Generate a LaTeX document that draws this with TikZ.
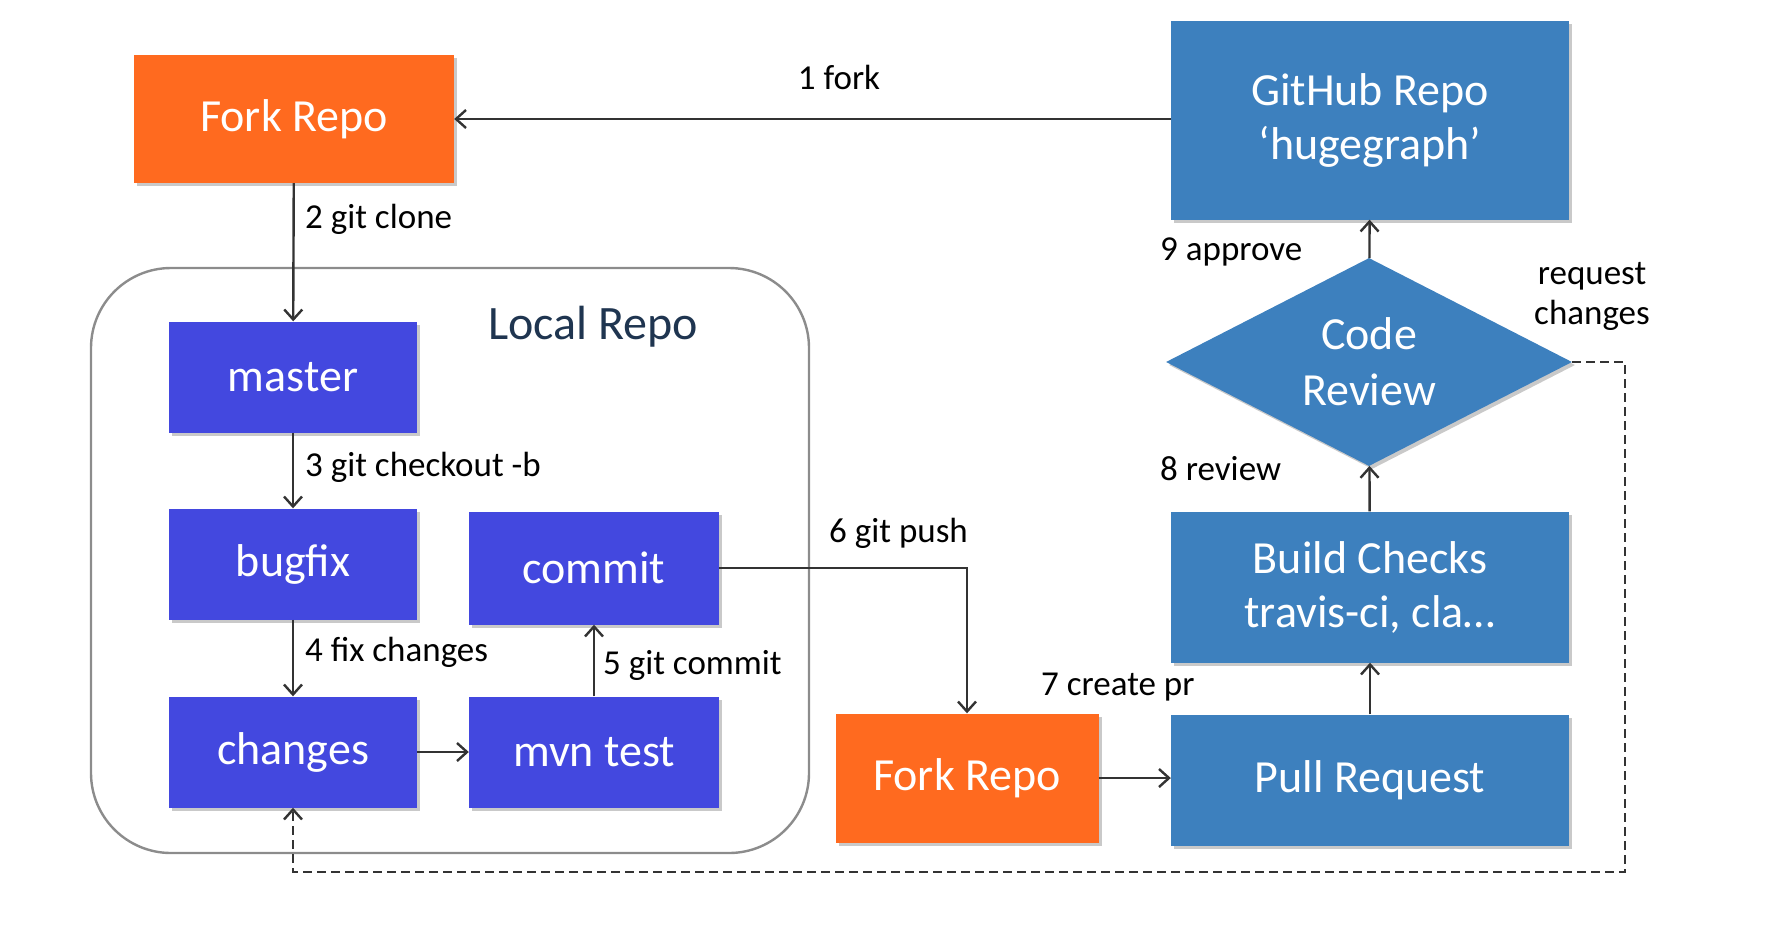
\documentclass[tikz,border=0pt]{standalone}
\usepackage{fontspec}
\setmainfont{Carlito}
\usetikzlibrary{positioning,shapes.geometric,arrows.meta,shadows}
\definecolor{forkorange}{HTML}{FF6A1F}
\definecolor{ghblue}{HTML}{3D80BE}
\definecolor{localblue}{HTML}{4348DF}
\definecolor{navy}{HTML}{1F3550}
\tikzset{
  box/.style={rectangle, draw=none, text=white, inner sep=0pt, font=\fontsize{46}{50}\selectfont, align=center,
    drop shadow={shadow xshift=3pt, shadow yshift=-3pt, fill=gray!60, opacity=.7}},
  forkbox/.style={box, fill=forkorange},
  ghbox/.style={box, fill=ghblue},
  localbox/.style={box, fill=localblue, minimum width=248pt, minimum height=111pt},
  lbl/.style={font=\fontsize{35}{40}\selectfont, text=black, inner sep=0pt},
  flow/.style={draw=black!80, line width=2.4pt, -{Straight Barb[length=10pt,width=18pt]}},
}
\begin{document}
\begin{tikzpicture}[x=1pt,y=-1pt]
  \useasboundingbox (0,0) rectangle (1768,924);
  % local repo frame
  \draw[black!45, line width=2.4pt, rounded corners=80pt] (91,268) rectangle (809,853);
  \node[font=\fontsize{48}{52}\selectfont, text=navy] (localtitle) at (593,327) {Local Repo};
  % boxes
  \node[forkbox, minimum width=320pt, minimum height=128pt] (fork1) at (294,119) {Fork Repo};
  \node[ghbox, minimum width=398pt, minimum height=199pt] (github) at (1370,120) {GitHub Repo\\[4pt]‘hugegraph’};
  \node[diamond, aspect=1.95, fill=ghblue, text=white, inner sep=0pt, minimum width=406pt, minimum height=208pt,
    font=\fontsize{46}{56}\selectfont, align=center,
    drop shadow={shadow xshift=3pt, shadow yshift=-3pt, fill=gray!60, opacity=.7}] (review) at (1369,362) {Code\\Review};
  \node[ghbox, minimum width=398pt, minimum height=151pt] (checks) at (1370,587) {Build Checks\\[4pt]travis-ci, cla…};
  \node[ghbox, minimum width=398pt, minimum height=131pt] (pr) at (1370,780) {Pull Request};
  \node[forkbox, minimum width=263pt, minimum height=129pt] (fork2) at (967,778) {Fork Repo};
  \node[localbox] (master) at (293,377) {master};
  \node[localbox] (bugfix) at (293,564) {bugfix};
  \node[localbox] (changes) at (293,752) {changes};
  \node[localbox, minimum width=250pt, minimum height=113pt] (commit) at (594,568) {commit};
  \node[localbox, minimum width=250pt] (mvn) at (594,752) {mvn test};
  % connectors
  \draw[flow] (github.west |- fork1.east) -- (fork1.east);
  \draw[flow] (fork1) -- (master);
  \draw[flow] (master) -- (bugfix);
  \draw[flow] (bugfix) -- (changes);
  \draw[flow] (changes) -- (mvn);
  \draw[flow] (mvn) -- (commit);
  \draw[flow] (commit.east) -| (fork2.north);
  \draw[flow] (fork2.east) -- (fork2.east -| pr.west);
  \draw[flow] (pr) -- (checks);
  \draw[flow] (checks) -- (review);
  \draw[flow] (review) -- (github);
  \draw[flow, dashed, dash pattern=on 9pt off 5pt] (review.east) -- (1625,362) -- (1625,872) -| (changes.south);
  % labels
  \node[lbl] (l1) at (839,77) {1 fork};
  \node[lbl, anchor=west] (l2) at (305,219) {2 git clone};
  \node[lbl, anchor=west] (l3) at (305,467) {3 git checkout -b};
  \node[lbl, anchor=west] (l4) at (305,652) {4 fix changes};
  \node[lbl, anchor=west] (l5) at (603,665) {5 git commit};
  \node[lbl, anchor=west] (l6) at (829,533) {6 git push};
  \node[lbl, anchor=west] (l7) at (1041,687) {7 create pr};
  \node[lbl, anchor=west] (l8) at (1160,469) {8 review};
  \node[lbl, anchor=west] (l9) at (1160,252) {9 approve};
  \node[lbl, align=center] (l10) at (1592,296) {request\\changes};
\end{tikzpicture}
\end{document}
